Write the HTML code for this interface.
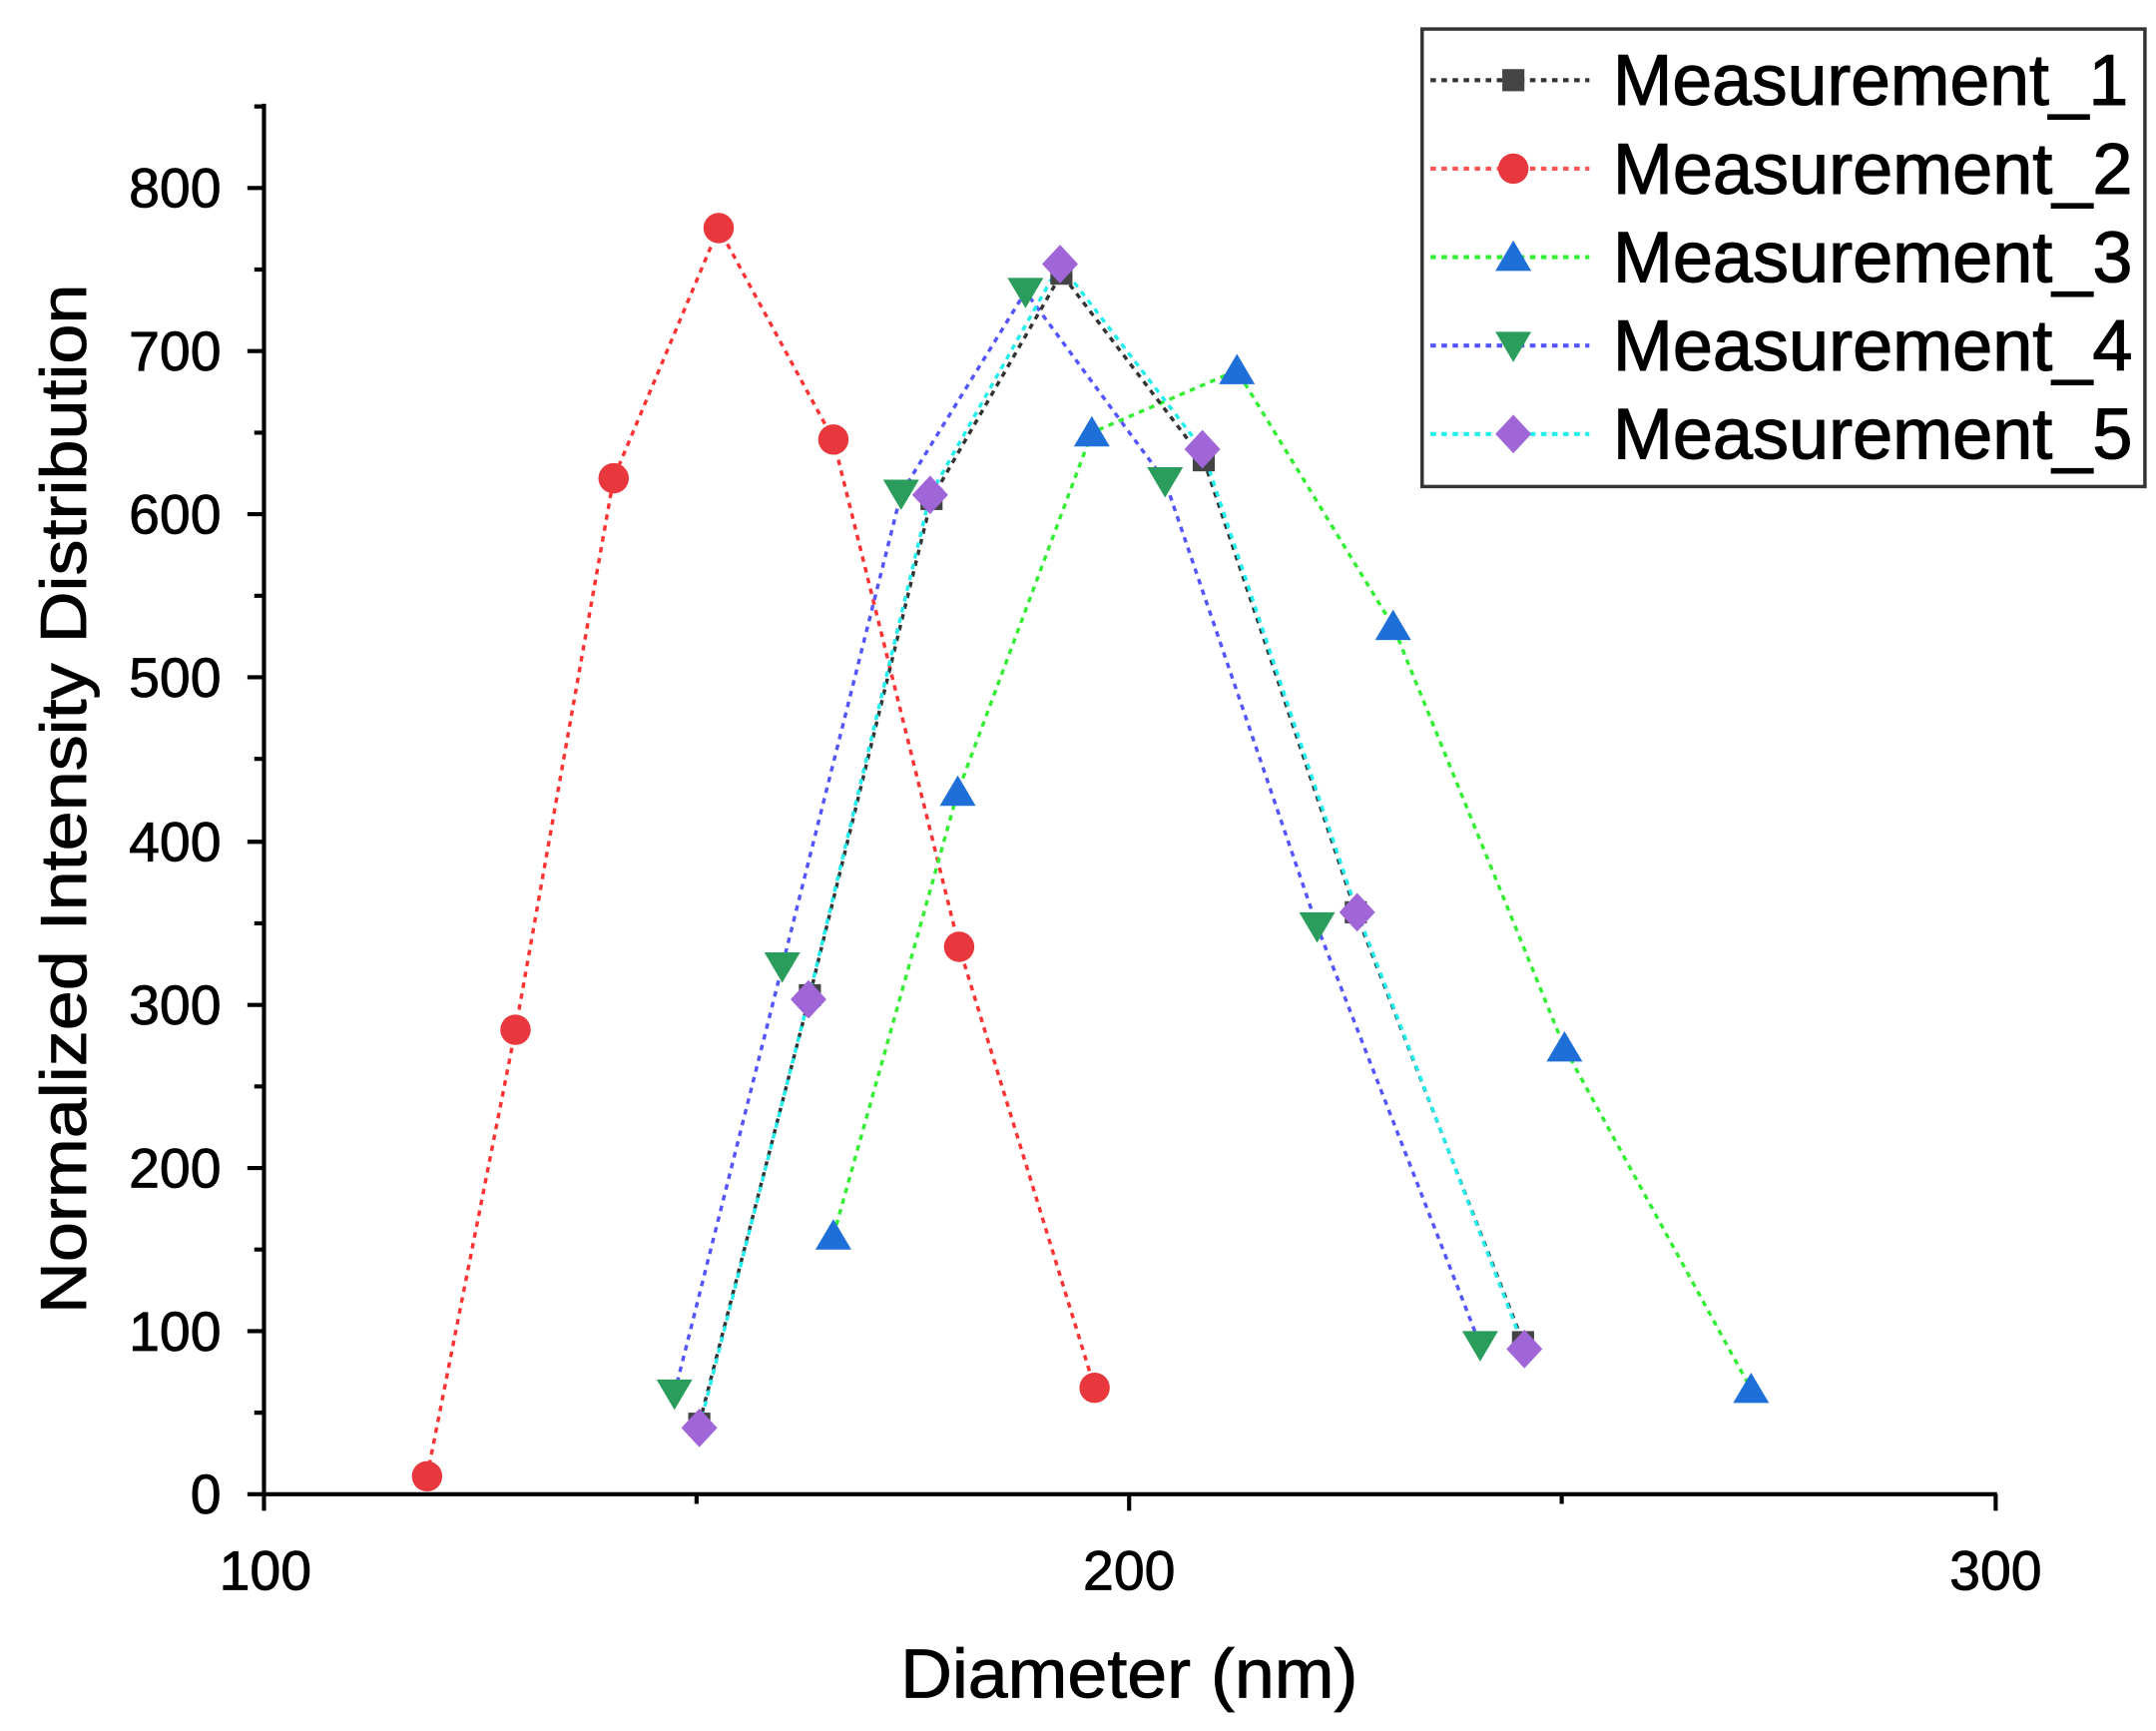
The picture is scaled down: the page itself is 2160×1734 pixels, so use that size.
<!DOCTYPE html>
<html><head><meta charset="utf-8"><style>html,body{margin:0;padding:0;background:#fff}svg{display:block}</style></head>
<body>
<svg width="2160" height="1734" viewBox="0 0 1560 1252.3" preserveAspectRatio="none" xmlns="http://www.w3.org/2000/svg" font-family="Liberation Sans, Arial, sans-serif">
<rect width="1560" height="1253" fill="#fff"/>
<g stroke="#000" stroke-width="3" fill="none">
<line x1="191" y1="75" x2="191" y2="1082"/>
<line x1="189.5" y1="1081" x2="1445" y2="1081"/>
<path d="M179 1081H191M179 963H191M179 845H191M179 727H191M179 609H191M179 490H191M179 372H191M179 254H191M179 136H191"/>
<path d="M184 1022H191M184 904H191M184 786H191M184 668H191M184 549H191M184 431H191M184 313H191M184 195H191M184 77H191"/>
<path d="M191 1081V1093M817 1081V1093M1444 1081V1093M504 1081V1088M1130 1081V1088"/>
</g>
<g font-size="40" text-anchor="end" fill="#000" stroke="#000" stroke-width="0.6">
<text x="160" y="1095">0</text><text x="160" y="977">100</text><text x="160" y="859">200</text><text x="160" y="741">300</text><text x="160" y="623">400</text><text x="160" y="504">500</text><text x="160" y="386">600</text><text x="160" y="268">700</text><text x="160" y="150">800</text>
</g>
<g font-size="40" text-anchor="middle" stroke="#000" stroke-width="0.6"><text x="192" y="1150">100</text><text x="817" y="1150">200</text><text x="1444" y="1150">300</text></g>
<text x="817" y="1228" font-size="50" text-anchor="middle" textLength="331" lengthAdjust="spacingAndGlyphs" stroke="#000" stroke-width="0.6">Diameter (nm)</text>
<text transform="translate(62,578) rotate(-90)" font-size="47" text-anchor="middle" textLength="745" lengthAdjust="spacingAndGlyphs" stroke="#000" stroke-width="0.6">Normalized Intensity Distribution</text>
<g fill="none" stroke-width="2.5" stroke-dasharray="4 4">
<polyline stroke="#f33" points="309,1068 373,745 444,346 520,165 603,318 694,685 792,1004"/>
<polyline stroke="#3e3" points="603,894 693,573 790,313 895,268 1008,453 1132,758 1267,1005"/>
<polyline stroke="#55f" points="488,1008 566,699 652,357 742,211 843,348 953,670 1071,973"/>
<polyline stroke="#333" points="506,1030 586,720 674,361 768,198 871,333 981,660 1102,971"/>
<polyline stroke="#2ee" points="506,1033 585,723 673,358 767,191 870,325 982,660 1103,976"/>
</g>
<g fill="#444">
<rect x="498" y="1022" width="16" height="16"/><rect x="578" y="712" width="16" height="16"/><rect x="666" y="353" width="16" height="16"/><rect x="760" y="190" width="16" height="16"/><rect x="863" y="325" width="16" height="16"/><rect x="973" y="652" width="16" height="16"/><rect x="1094" y="963" width="16" height="16"/>
</g>
<g fill="#e8383d">
<circle cx="309" cy="1068" r="11"/><circle cx="373" cy="745" r="11"/><circle cx="444" cy="346" r="11"/><circle cx="520" cy="165" r="11"/><circle cx="603" cy="318" r="11"/><circle cx="694" cy="685" r="11"/><circle cx="792" cy="1004" r="11"/>
</g>
<g fill="#1f6fd8">
<path d="M603,882l13,22h-26z"/><path d="M693,561l13,22h-26z"/><path d="M790,301l13,22h-26z"/><path d="M895,256l13,22h-26z"/><path d="M1008,441l13,22h-26z"/><path d="M1132,746l13,22h-26z"/><path d="M1267,993l13,22h-26z"/>
</g>
<g fill="#2a9d5c">
<path d="M488,1020l13,-22h-26z"/><path d="M566,711l13,-22h-26z"/><path d="M652,369l13,-22h-26z"/><path d="M742,223l13,-22h-26z"/><path d="M843,360l13,-22h-26z"/><path d="M953,682l13,-22h-26z"/><path d="M1071,985l13,-22h-26z"/>
</g>
<g fill="#a066d8">
<path d="M506,1019l13,14l-13,14l-13,-14z"/><path d="M585,709l13,14l-13,14l-13,-14z"/><path d="M673,344l13,14l-13,14l-13,-14z"/><path d="M767,177l13,14l-13,14l-13,-14z"/><path d="M870,311l13,14l-13,14l-13,-14z"/><path d="M982,646l13,14l-13,14l-13,-14z"/><path d="M1103,962l13,14l-13,14l-13,-14z"/>
</g>
<rect x="1029" y="21" width="523" height="331" fill="#fff" stroke="#333" stroke-width="2.5"/>
<g stroke-width="3" stroke-dasharray="4 4">
<line x1="1035" y1="58" x2="1150" y2="58" stroke="#333"/>
<line x1="1035" y1="122" x2="1150" y2="122" stroke="#f55"/>
<line x1="1035" y1="186" x2="1150" y2="186" stroke="#3e3"/>
<line x1="1035" y1="250" x2="1150" y2="250" stroke="#55f"/>
<line x1="1035" y1="314" x2="1150" y2="314" stroke="#2ee"/>
</g>
<rect x="1087" y="50" width="16" height="16" fill="#444"/>
<circle cx="1095" cy="122" r="11" fill="#e8383d"/>
<path d="M1095,174l13,22h-26z" fill="#1f6fd8"/>
<path d="M1095,262l13,-22h-26z" fill="#2a9d5c"/>
<path d="M1095,300l13,14l-13,14l-13,-14z" fill="#a066d8"/>
<g font-size="52" fill="#000" stroke="#000" stroke-width="0.8">
<text x="1167" y="76" textLength="373" lengthAdjust="spacingAndGlyphs">Measurement_1</text>
<text x="1167" y="140" textLength="376" lengthAdjust="spacingAndGlyphs">Measurement_2</text>
<text x="1167" y="204" textLength="376" lengthAdjust="spacingAndGlyphs">Measurement_3</text>
<text x="1167" y="268" textLength="376" lengthAdjust="spacingAndGlyphs">Measurement_4</text>
<text x="1167" y="332" textLength="376" lengthAdjust="spacingAndGlyphs">Measurement_5</text>
</g>
</svg>
</body></html>
